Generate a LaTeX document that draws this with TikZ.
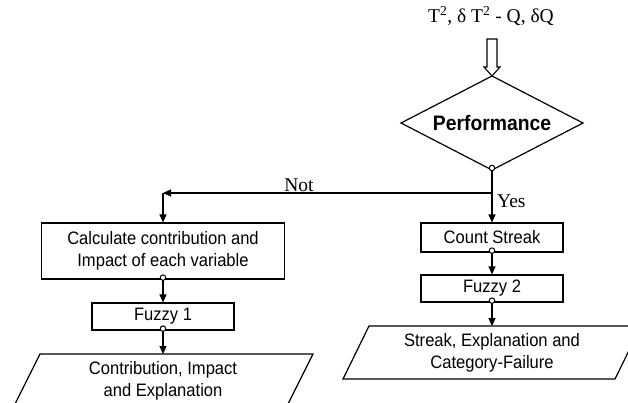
\documentclass[tikz,border=0pt]{standalone}
\usepackage{fontspec}
\usetikzlibrary{arrows.meta,shapes.geometric}
\newfontfamily\boxfont[FakeStretch=0.92]{Liberation Sans}
\newfontfamily\serfont{Liberation Serif}
\begin{document}
\begin{tikzpicture}[x=1pt,y=-1pt,
  procbox/.style={draw, line width=1.2pt, inner sep=0pt, align=center, font=\boxfont\fontsize{18}{22}\selectfont},
  plain/.style={inner sep=0pt, align=center, font=\boxfont\fontsize{18}{22}\selectfont},
  lbl/.style={inner sep=0pt, font=\serfont\fontsize{19.5}{22}\selectfont},
  conn/.style={line width=1.2pt, -{Triangle[length=8pt,width=7pt]}},
  dot/.style={circle, draw, fill=white, line width=1pt, inner sep=0pt, minimum size=5.5pt},
  shapeline/.style={line width=1.2pt},
]
\useasboundingbox (0,0) rectangle (628,402);
\clip (0,0) rectangle (628,402);

% input label and hollow arrow
\node[lbl] (in) at (491,16) {T\textsuperscript{2}, δ T\textsuperscript{2} - Q, δQ};
\node[diamond, draw, line width=1.2pt, aspect=1.94, minimum width=182pt, minimum height=94pt, inner sep=0pt, outer sep=0pt,
      font=\boxfont\bfseries\fontsize{21}{24}\selectfont] (perf) at (492,123) {Performance};
\draw[line width=1.1pt, fill=white] (487,39) -- (497,39) -- (497,67) -- (500,67) -- (perf.north) -- (484,67) -- (487,67) -- cycle;

% right branch
\node[procbox, minimum width=142pt, minimum height=29pt] (cs) at (492,237.5) {Count Streak};
\node[procbox, minimum width=142pt, minimum height=27pt] (fz2) at (492,288.5) {Fuzzy 2};
\draw[shapeline] (369,326) -- (641,326) -- (615,379) -- (343,379) -- cycle;
\node[plain] (out2) at (492,352.5) {Streak, Explanation and\\Category-Failure};
\coordinate (p2top) at (492,326);

% left branch
\node[procbox, minimum width=243pt, minimum height=56pt] (calc) at (163,251) {Calculate contribution and\\Impact of each variable};
\node[procbox, minimum width=142pt, minimum height=27pt] (fz1) at (163,316.5) {Fuzzy 1};
\draw[shapeline] (40,354) -- (313,354) -- (286.5,407) -- (13.5,407) -- cycle;
\node[plain] (out1) at (163,380.5) {Contribution, Impact\\and Explanation};
\coordinate (p1top) at (163,354);

% connector points
\coordinate (split) at (492,193);
\coordinate (corner) at (163,193);

% connectors
\draw[conn] (perf.south) -- (cs.north);
\draw[conn] (split) -- (corner);
\draw[conn] (corner) -- (calc.north);
\draw[conn] (cs.south) -- (fz2.north);
\draw[conn] (fz2.south) -- (p2top);
\draw[conn] (calc.south) -- (fz1.north);
\draw[conn] (fz1.south) -- (p1top);

% small circles
\node[dot] (c0) at ([yshift=2pt]perf.south) {};
\node[dot] (c1) at ([yshift=2pt]cs.south) {};
\node[dot] (c2) at ([yshift=2pt]fz2.south) {};
\node[dot] (c3) at ([yshift=2pt]calc.south) {};
\node[dot] (c4) at ([yshift=2pt]fz1.south) {};

% labels
\node[lbl] (not) at (299,185) {Not};
\node[lbl, anchor=west] (yes) at (497,201) {Yes};
\end{tikzpicture}
\end{document}
